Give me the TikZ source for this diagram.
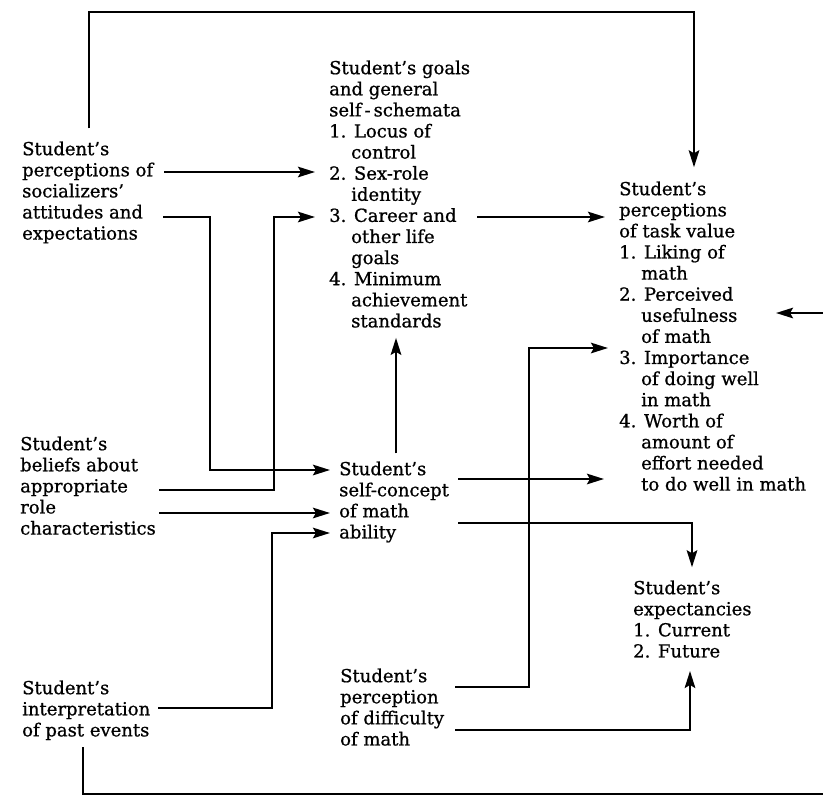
\documentclass[tikz,border=0pt]{standalone}
\usepackage{fontspec}
\setmainfont{DejaVu Serif}[FakeBold=0.8]
\usetikzlibrary{arrows.meta}
% hanging indent for the continuation lines of numbered items
\newcommand{\listpad}{\hspace*{22pt}}

\begin{document}
\begin{tikzpicture}[x=1pt,y=-1pt,
  label text/.style={anchor=north west, inner sep=0pt, align=left,
    font=\fontsize{18}{21.1}\selectfont},
  link/.style={line width=2.6pt, line join=miter,
    -{Stealth[length=17pt,width=10.5pt,inset=3pt]}},
  plain link/.style={line width=2.6pt, line join=miter}]

\fill[white] (0,0) rectangle (823,796);
\useasboundingbox (0,0) rectangle (823,796);

% ---- text blocks ----
\node[label text] (perc) at (22,141.3)
  {Student’s\\perceptions of\\socializers’\\attitudes and\\expectations};
\node[label text] (goals) at (329,60.3)
  {Student’s goals\\and general\\self\,-\,schemata\\1. Locus of\\\listpad control\\2. Sex-role\\\listpad identity\\3. Career and\\\listpad other life\\\listpad goals\\4. Minimum\\\listpad achievement\\\listpad standards};
\node[label text] (task) at (619,181.3)
  {Student’s\\perceptions\\of task value\\1. Liking of\\\listpad math\\2. Perceived\\\listpad usefulness\\\listpad of math\\3. Importance\\\listpad of doing well\\\listpad in math\\4. Worth of\\\listpad amount of\\\listpad effort needed\\\listpad to do well in math};
\node[label text] (beliefs) at (20,436.3)
  {Student’s\\beliefs about\\appropriate\\role\\characteristics};
\node[label text] (selfc) at (339,461.3)
  {Student’s\\self-concept\\of math\\ability};
\node[label text] (expect) at (633,580.3)
  {Student’s\\expectancies\\1. Current\\2. Future};
\node[label text] (interp) at (22,680.3)
  {Student’s\\interpretation\\of past events};
\node[label text] (diff) at (340,668.3)
  {Student’s\\perception\\of difficulty\\of math};

% ---- rows and lanes used by the connectors ----
\coordinate (rowTop) at (0,12);
\coordinate (rowSex) at (0,172);
\coordinate (rowCareer) at (0,217);
\coordinate (rowUseful) at (0,313);
\coordinate (rowImport) at (0,348);
\coordinate (rowSelfA) at (0,470);
\coordinate (rowEffort) at (0,479);
\coordinate (rowAppr) at (0,490);
\coordinate (rowRole) at (0,513);
\coordinate (rowExp) at (0,523);
\coordinate (rowAbil) at (0,533);
\coordinate (rowDiffA) at (0,687);
\coordinate (rowInterp) at (0,708);
\coordinate (rowDiffB) at (0,730);
\coordinate (rowBottom) at (0,794);

\coordinate (lanePast) at (83,0);
\coordinate (laneTopL) at (89,0);
\coordinate (laneSoc) at (210,0);
\coordinate (laneInt) at (272,0);
\coordinate (laneBel) at (274,0);
\coordinate (laneUp) at (396,0);
\coordinate (laneDiff) at (529,0);
\coordinate (laneDiffExp) at (690,0);
\coordinate (laneExp) at (692,0);
\coordinate (laneTopR) at (694,0);
\coordinate (edgeRight) at (823,0);
\coordinate (usefulIn) at (776,313);

% ---- connectors ----
\draw[link, shorten <=13pt, shorten >=14pt]
  (laneTopL |- perc.north) -- (laneTopL |- rowTop) -- (laneTopR |- rowTop) -- (laneTopR |- task.north);
\draw[link, shorten <=11pt, shorten >=14pt] (perc.east |- rowSex) -- (goals.west |- rowSex);
\draw[link, shorten <=10pt, shorten >=9pt]
  (perc.east |- rowCareer) -- (laneSoc |- rowCareer) -- (laneSoc |- rowSelfA) -- (selfc.west |- rowSelfA);
\draw[link, shorten <=3pt, shorten >=14pt]
  (beliefs.east |- rowAppr) -- (laneBel |- rowAppr) -- (laneBel |- rowCareer) -- (goals.west |- rowCareer);
\draw[link, shorten <=3pt, shorten >=9pt] (beliefs.east |- rowRole) -- (selfc.west |- rowRole);
\draw[link, shorten <=8pt, shorten >=9pt]
  (interp.east |- rowInterp) -- (laneInt |- rowInterp) -- (laneInt |- rowAbil) -- (selfc.west |- rowAbil);
\draw[plain link, shorten <=7pt]
  (lanePast |- interp.south) -- (lanePast |- rowBottom) -- (edgeRight |- rowBottom);
\draw[link, shorten <=8pt, shorten >=10pt] (laneUp |- selfc.north) -- (laneUp |- goals.south);
\draw[link, shorten <=7pt, shorten >=14pt] (goals.east |- rowCareer) -- (task.west |- rowCareer);
\draw[link, shorten <=9pt, shorten >=15pt] (selfc.east |- rowEffort) -- (task.west |- rowEffort);
\draw[link, shorten <=9pt, shorten >=13pt]
  (selfc.east |- rowExp) -- (laneExp |- rowExp) -- (laneExp |- expect.north);
\draw[link, shorten <=11pt, shorten >=11pt]
  (diff.east |- rowDiffA) -- (laneDiff |- rowDiffA) -- (laneDiff |- rowImport) -- (task.west |- rowImport);
\draw[link, shorten <=11pt, shorten >=13pt]
  (diff.east |- rowDiffB) -- (laneDiffExp |- rowDiffB) -- (laneDiffExp |- expect.south);
\draw[link] (edgeRight |- rowUseful) -- (usefulIn);
\end{tikzpicture}
\end{document}
